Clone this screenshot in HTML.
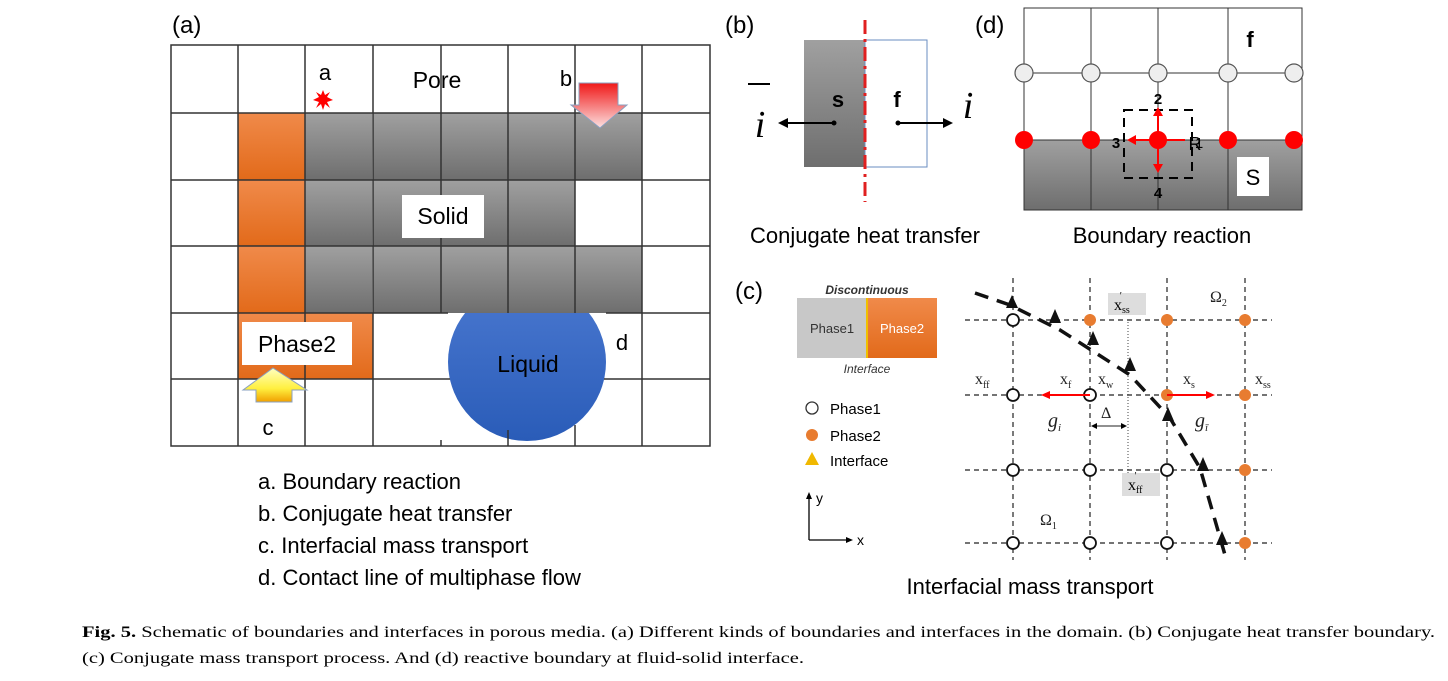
<!DOCTYPE html>
<html><head><meta charset="utf-8"><style>body{margin:0;background:#fff}svg{display:block}</style></head><body>
<svg width="1448" height="681" viewBox="0 0 1448 681" xmlns="http://www.w3.org/2000/svg" font-family="Liberation Sans, sans-serif">
<defs>
<linearGradient id="gr" x1="0" y1="0" x2="0" y2="1"><stop offset="0" stop-color="#a0a0a0"/><stop offset="1" stop-color="#6e6e6e"/></linearGradient>
<linearGradient id="or" x1="0" y1="0" x2="0" y2="1"><stop offset="0" stop-color="#f08a4a"/><stop offset="1" stop-color="#e26a1a"/></linearGradient>
<linearGradient id="rd" x1="0" y1="0" x2="0" y2="1"><stop offset="0" stop-color="#f01818"/><stop offset="1" stop-color="#fce0e0"/></linearGradient>
<linearGradient id="yl" x1="0" y1="0" x2="0" y2="1"><stop offset="0" stop-color="#ffffc0"/><stop offset="0.6" stop-color="#fff040"/><stop offset="1" stop-color="#f0a000"/></linearGradient>
<linearGradient id="bl" x1="0" y1="0" x2="0" y2="1"><stop offset="0" stop-color="#4a78d0"/><stop offset="1" stop-color="#2a5cb8"/></linearGradient>
</defs>
<!-- panel a -->
<text x="172" y="33" font-size="24">(a)</text>
<circle cx="527" cy="362" r="79" fill="url(#bl)"/>
<g fill="url(#gr)">
<rect x="305" y="113" width="67" height="67"/><rect x="373" y="113" width="68" height="67"/><rect x="441" y="113" width="67" height="67"/><rect x="508" y="113" width="67" height="67"/><rect x="575" y="113" width="67" height="67"/>
<rect x="305" y="180" width="67" height="66"/><rect x="373" y="180" width="68" height="66"/><rect x="441" y="180" width="67" height="66"/><rect x="508" y="180" width="67" height="66"/>
<rect x="305" y="246" width="67" height="67"/><rect x="373" y="246" width="68" height="67"/><rect x="441" y="246" width="67" height="67"/><rect x="508" y="246" width="67" height="67"/><rect x="575" y="246" width="67" height="67"/>
</g>
<g fill="url(#or)">
<rect x="238" y="113" width="67" height="67"/><rect x="238" y="180" width="67" height="66"/><rect x="238" y="246" width="67" height="67"/><rect x="238" y="313" width="67" height="66"/><rect x="305" y="313" width="68" height="66"/>
</g>
<g stroke="#333" stroke-width="1.5" fill="none">
<rect x="171" y="45" width="539" height="401"/>
<path d="M238 45V446M305 45V446M373 45V446M441 45V313M441 440V446M508 45V313M508 430V446M575 45V313M575 425V446M642 45V446"/>
<path d="M171 113H710M171 180H710M171 246H710M171 313H448M606 313H710M171 379H450M604 379H710"/>
</g>
<rect x="402" y="195" width="82" height="43" fill="#fff"/>
<text x="443" y="224" font-size="23" text-anchor="middle">Solid</text>
<rect x="242" y="322" width="110" height="43" fill="#fff"/>
<text x="297" y="352" font-size="23" text-anchor="middle">Phase2</text>
<text x="528" y="372" font-size="23" text-anchor="middle">Liquid</text>
<text x="437" y="88" font-size="23" text-anchor="middle">Pore</text>
<text x="325" y="80" font-size="22" text-anchor="middle">a</text>
<text x="566" y="86" font-size="22" text-anchor="middle">b</text>
<text x="268" y="435" font-size="22" text-anchor="middle">c</text>
<text x="622" y="350" font-size="22" text-anchor="middle">d</text>
<polygon points="323,90 325,95 330,92 327,97 333,100 327,102 330,108 325,104 323,110 321,104 316,108 319,102 313,100 319,97 316,92 321,95" fill="#f00"/>
<polygon points="579,83 618,83 618,105 627,105 600,128 571,105 579,105" fill="url(#rd)" stroke="#8aa0c0" stroke-width="1"/>
<polygon points="273,368 307,390 292,390 292,402 256,402 256,390 243,390" fill="url(#yl)" stroke="#8aa0c0" stroke-width="1"/>
<g font-size="22"><text x="258" y="489">a. Boundary reaction</text><text x="258" y="521">b. Conjugate heat transfer</text><text x="258" y="553">c. Interfacial mass transport</text><text x="258" y="585">d. Contact line of multiphase flow</text></g>
<!-- panel b -->
<text x="725" y="33" font-size="24">(b)</text>
<rect x="804" y="40" width="61" height="127" fill="url(#gr)"/>
<rect x="865" y="40" width="62" height="127" fill="#fff" stroke="#6a8cc0" stroke-width="1"/>
<line x1="865" y1="20" x2="865" y2="202" stroke="#e02020" stroke-width="3" stroke-dasharray="14,5,3,5"/>
<text x="838" y="107" font-size="22" font-weight="bold" text-anchor="middle">s</text>
<text x="897" y="107" font-size="22" font-weight="bold" text-anchor="middle">f</text>
<line x1="834" y1="123" x2="785" y2="123" stroke="#000" stroke-width="2"/><polygon points="778,123 788,118 788,128"/><circle cx="834" cy="123" r="2.5"/>
<line x1="898" y1="123" x2="945" y2="123" stroke="#000" stroke-width="2"/><polygon points="953,123 943,118 943,128"/><circle cx="898" cy="123" r="2.5"/>
<text x="760" y="137" font-size="38" font-style="italic" font-family="Liberation Serif, serif" text-anchor="middle">i</text>
<line x1="748" y1="84" x2="770" y2="84" stroke="#000" stroke-width="2"/>
<text x="968" y="118" font-size="38" font-style="italic" font-family="Liberation Serif, serif" text-anchor="middle">i</text>
<text x="865" y="243" font-size="22" text-anchor="middle">Conjugate heat transfer</text>
<!-- panel d -->
<text x="975" y="33" font-size="24">(d)</text>
<rect x="1024" y="140" width="278" height="70" fill="url(#gr)"/>
<g stroke="#333" stroke-width="1" fill="none"><rect x="1024" y="8" width="278" height="202"/><path d="M1091 8V210M1158 8V210M1228 8V210M1024 73H1302M1024 140H1302"/></g>
<rect x="1237" y="157" width="32" height="39" fill="#fff"/><text x="1253" y="185" font-size="22" text-anchor="middle">S</text>
<text x="1250" y="47" font-size="22" font-weight="bold" text-anchor="middle">f</text>
<g fill="#eee" stroke="#555" stroke-width="1.2"><circle cx="1024" cy="73" r="9"/><circle cx="1091" cy="73" r="9"/><circle cx="1158" cy="73" r="9"/><circle cx="1228" cy="73" r="9"/><circle cx="1294" cy="73" r="9"/></g>
<rect x="1124" y="110" width="68" height="68" fill="none" stroke="#000" stroke-width="2" stroke-dasharray="9,6"/>
<g fill="#f00"><circle cx="1024" cy="140" r="9"/><circle cx="1091" cy="140" r="9"/><circle cx="1158" cy="140" r="9"/><circle cx="1228" cy="140" r="9"/><circle cx="1294" cy="140" r="9"/></g>
<g stroke="#f00" stroke-width="2"><line x1="1158" y1="140" x2="1158" y2="114"/><line x1="1158" y1="140" x2="1158" y2="166"/><line x1="1158" y1="140" x2="1132" y2="140"/><line x1="1158" y1="140" x2="1185" y2="140"/></g>
<g fill="#f00"><polygon points="1158,107 1153,116 1163,116"/><polygon points="1158,173 1153,164 1163,164"/><polygon points="1127,140 1136,135 1136,145"/></g>
<g font-size="15" font-weight="bold" text-anchor="middle"><text x="1158" y="104">2</text><text x="1158" y="198">4</text><text x="1116" y="148">3</text><text x="1195" y="150" font-size="18" font-weight="normal">R</text><text x="1199" y="148" font-weight="normal">1</text></g>
<text x="1162" y="243" font-size="22" text-anchor="middle">Boundary reaction</text>
<!-- panel c -->
<text x="735" y="299" font-size="24">(c)</text>
<rect x="797" y="298" width="70" height="60" fill="#c8c8c8"/><rect x="867" y="298" width="70" height="60" fill="url(#or)"/><rect x="866" y="298" width="2" height="60" fill="#f0c000"/>
<text x="832" y="333" font-size="13" text-anchor="middle" fill="#333">Phase1</text><text x="902" y="333" font-size="13" text-anchor="middle" fill="#fff">Phase2</text>
<text x="867" y="294" font-size="12" font-style="italic" font-weight="bold" text-anchor="middle" fill="#333">Discontinuous</text>
<text x="867" y="373" font-size="12" font-style="italic" text-anchor="middle" fill="#333">Interface</text>
<circle cx="812" cy="408" r="6" fill="#fff" stroke="#333" stroke-width="1.3"/><text x="830" y="414" font-size="15">Phase1</text>
<circle cx="812" cy="435" r="6" fill="#e87c30"/><text x="830" y="441" font-size="15">Phase2</text>
<polygon points="812,452 819,465 805,465" fill="#f0b800"/><text x="830" y="466" font-size="15">Interface</text>
<g stroke="#000" stroke-width="1.3"><line x1="809" y1="540" x2="809" y2="497"/><line x1="809" y1="540" x2="848" y2="540"/></g>
<polygon points="809,492 806,499 812,499"/><polygon points="853,540 846,537 846,543"/>
<text x="816" y="503" font-size="14">y</text><text x="857" y="545" font-size="14">x</text>
<g stroke="#222" stroke-width="1.2" stroke-dasharray="5,4"><path d="M1013 278V560M1090 278V560M1167 278V560M1245 278V560M965 320H1272M965 395H1272M965 470H1272M965 543H1272"/></g>
<line x1="1128" y1="322" x2="1128" y2="482" stroke="#444" stroke-dasharray="1,2"/>
<g fill="#fff" stroke="#111" stroke-width="1.8">
<circle cx="1013" cy="320" r="6"/><circle cx="1013" cy="395" r="6"/><circle cx="1090" cy="395" r="6"/><circle cx="1013" cy="470" r="6"/><circle cx="1090" cy="470" r="6"/><circle cx="1167" cy="470" r="6"/><circle cx="1013" cy="543" r="6"/><circle cx="1090" cy="543" r="6"/><circle cx="1167" cy="543" r="6"/></g>
<g fill="#e87c30"><circle cx="1090" cy="320" r="6"/><circle cx="1167" cy="320" r="6"/><circle cx="1245" cy="320" r="6"/><circle cx="1167" cy="395" r="6"/><circle cx="1245" cy="395" r="6"/><circle cx="1245" cy="470" r="6"/><circle cx="1245" cy="543" r="6"/></g>
<path d="M975 293L1010 305 1060 330 1130 375 1170 418 1200 468 1225 555" fill="none" stroke="#111" stroke-width="3.5" stroke-dasharray="14,9"/>
<g fill="#111"><polygon points="1012,295 1018,308 1006,308"/><polygon points="1055,309 1061,323 1049,323"/><polygon points="1093,331 1099,345 1087,345"/><polygon points="1130,357 1136,371 1124,371"/><polygon points="1168,407 1174,421 1162,421"/><polygon points="1203,457 1209,471 1197,471"/><polygon points="1222,531 1228,545 1216,545"/></g>
<g stroke="#f00" stroke-width="2"><line x1="1090" y1="395" x2="1048" y2="395"/><line x1="1167" y1="395" x2="1208" y2="395"/></g>
<g fill="#f00"><polygon points="1041,395 1050,391 1050,399"/><polygon points="1215,395 1206,391 1206,399"/></g>
<g font-family="Liberation Serif, serif" font-size="16" fill="#222">
<text x="975" y="384">x<tspan font-size="10" dy="4">ff</tspan></text><text x="1060" y="384">x<tspan font-size="10" dy="4">f</tspan></text><text x="1098" y="384">x<tspan font-size="10" dy="4">w</tspan></text><text x="1183" y="384">x<tspan font-size="10" dy="4">s</tspan></text><text x="1255" y="384">x<tspan font-size="10" dy="4">ss</tspan></text>
<text x="1048" y="427" font-style="italic" font-size="20">g<tspan font-size="11" dy="4">i</tspan></text><text x="1195" y="427" font-style="italic" font-size="20">g<tspan font-size="11" dy="4">ī</tspan></text>
<text x="1101" y="418">Δ</text>
<text x="1210" y="302">Ω<tspan font-size="10" dy="4">2</tspan></text><text x="1040" y="525">Ω<tspan font-size="10" dy="4">1</tspan></text>
</g>
<line x1="1092" y1="426" x2="1126" y2="426" stroke="#222"/><polygon points="1091,426 1097,423 1097,429"/><polygon points="1127,426 1121,423 1121,429"/>
<rect x="1108" y="293" width="38" height="22" fill="#ddd"/><text x="1114" y="310" font-family="Liberation Serif, serif" font-size="16">x<tspan font-size="10" dy="3">ss</tspan><tspan font-size="10" dx="-10" dy="-14">′</tspan></text>
<rect x="1122" y="473" width="38" height="23" fill="#ddd"/><text x="1128" y="490" font-family="Liberation Serif, serif" font-size="16">x<tspan font-size="10" dy="3">ff</tspan><tspan font-size="10" dx="-8" dy="-14">′</tspan></text>
<text x="1030" y="594" font-size="22" text-anchor="middle">Interfacial mass transport</text>
<!-- caption -->
<g font-family="Liberation Serif, serif" font-size="16">
<text x="82" y="637" textLength="1353" lengthAdjust="spacingAndGlyphs"><tspan font-weight="bold">Fig. 5.</tspan>  Schematic of boundaries and interfaces in porous media. (a) Different kinds of boundaries and interfaces in the domain. (b) Conjugate heat transfer boundary.</text>
<text x="82" y="663" textLength="722" lengthAdjust="spacingAndGlyphs">(c) Conjugate mass transport process. And (d) reactive boundary at fluid-solid interface.</text>
</g>
</svg>
</body></html>
